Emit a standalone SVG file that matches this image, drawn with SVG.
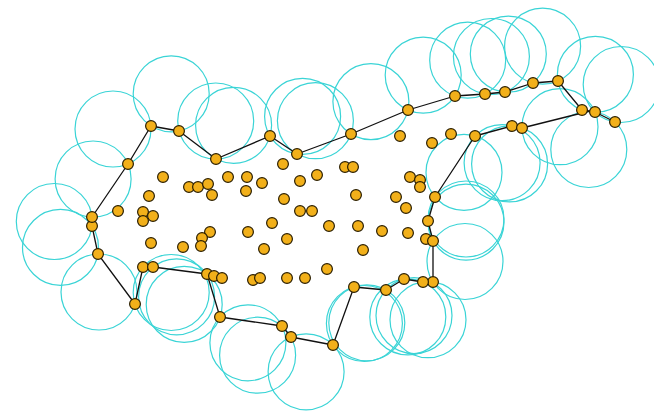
<svg xmlns="http://www.w3.org/2000/svg" width="654" height="413" viewBox="0 0 654 413">
<style>
.c{fill:none;stroke:#3ad4d6;stroke-width:1.2}
.h{fill:none;stroke:#111;stroke-width:1.3;stroke-linejoin:round}
.p{fill:#f2b01a;stroke:#2a1e00;stroke-width:1.2}
</style>
<rect width="654" height="413" fill="#fff"/>
<g id="circles">
<circle class="c" cx="171.2" cy="93.8" r="38"/>
<circle class="c" cx="215.7" cy="121" r="38"/>
<circle class="c" cx="233.6" cy="125.3" r="38"/>
<circle class="c" cx="302.6" cy="116.4" r="38"/>
<circle class="c" cx="315.4" cy="120.7" r="38"/>
<circle class="c" cx="370.9" cy="101.6" r="38"/>
<circle class="c" cx="423.2" cy="75.1" r="38"/>
<circle class="c" cx="467.7" cy="60.2" r="38"/>
<circle class="c" cx="491.4" cy="56.5" r="38"/>
<circle class="c" cx="508.3" cy="54.1" r="38"/>
<circle class="c" cx="542.6" cy="46.2" r="38"/>
<circle class="c" cx="595.4" cy="74.4" r="38"/>
<circle class="c" cx="621.2" cy="84.5" r="38"/>
<circle class="c" cx="588.8" cy="149.5" r="38"/>
<circle class="c" cx="560" cy="126.7" r="38"/>
<circle class="c" cx="509.6" cy="163.9" r="38"/>
<circle class="c" cx="502.1" cy="162.7" r="38"/>
<circle class="c" cx="464" cy="172.4" r="38"/>
<circle class="c" cx="466" cy="219" r="38"/>
<circle class="c" cx="466" cy="222.1" r="38"/>
<circle class="c" cx="465" cy="261.5" r="38"/>
<circle class="c" cx="428" cy="319.7" r="38"/>
<circle class="c" cx="407.8" cy="316.9" r="38"/>
<circle class="c" cx="414" cy="315.6" r="38"/>
<circle class="c" cx="366.8" cy="322.8" r="38"/>
<circle class="c" cx="364.4" cy="323.5" r="38"/>
<circle class="c" cx="306.1" cy="371.8" r="38"/>
<circle class="c" cx="257.6" cy="355.2" r="38"/>
<circle class="c" cx="247.9" cy="342.8" r="38"/>
<circle class="c" cx="184.2" cy="304.4" r="38"/>
<circle class="c" cx="176.6" cy="296.8" r="38"/>
<circle class="c" cx="171.2" cy="292.5" r="38"/>
<circle class="c" cx="99" cy="292" r="38"/>
<circle class="c" cx="60.5" cy="247.4" r="38"/>
<circle class="c" cx="54.3" cy="221.5" r="38"/>
<circle class="c" cx="93.1" cy="179" r="38"/>
<circle class="c" cx="113" cy="129" r="38"/>
</g>
<g id="connectors">
<polyline class="h" points="151,126 179,131 216,159 270,136 297,154 351,134 408,110 455,96 485,94 505,92 533,83 558,81 582,110 595,112 615,122"/>
<polyline class="h" points="590,111 522,128 512,126 475,136 435,197 428,221 433,241 433,282 423,282 404,279 386,290 354,287 333,345 291,337 282,326 220,317 207,274 153,267 143,267 135,304 98,254 92,226 92,217 128,164 151,126"/>
</g>
<g id="points">
<circle class="p" cx="151" cy="126" r="5.4"/>
<circle class="p" cx="179" cy="131" r="5.4"/>
<circle class="p" cx="216" cy="159" r="5.4"/>
<circle class="p" cx="270" cy="136" r="5.4"/>
<circle class="p" cx="297" cy="154" r="5.4"/>
<circle class="p" cx="351" cy="134" r="5.4"/>
<circle class="p" cx="408" cy="110" r="5.4"/>
<circle class="p" cx="455" cy="96" r="5.4"/>
<circle class="p" cx="485" cy="94" r="5.4"/>
<circle class="p" cx="505" cy="92" r="5.4"/>
<circle class="p" cx="533" cy="83" r="5.4"/>
<circle class="p" cx="558" cy="81" r="5.4"/>
<circle class="p" cx="582" cy="110" r="5.4"/>
<circle class="p" cx="595" cy="112" r="5.4"/>
<circle class="p" cx="615" cy="122" r="5.4"/>
<circle class="p" cx="512" cy="126" r="5.4"/>
<circle class="p" cx="522" cy="128" r="5.4"/>
<circle class="p" cx="475" cy="136" r="5.4"/>
<circle class="p" cx="435" cy="197" r="5.4"/>
<circle class="p" cx="428" cy="221" r="5.4"/>
<circle class="p" cx="426" cy="239" r="5.4"/>
<circle class="p" cx="433" cy="241" r="5.4"/>
<circle class="p" cx="433" cy="282" r="5.4"/>
<circle class="p" cx="423" cy="282" r="5.4"/>
<circle class="p" cx="404" cy="279" r="5.4"/>
<circle class="p" cx="386" cy="290" r="5.4"/>
<circle class="p" cx="354" cy="287" r="5.4"/>
<circle class="p" cx="333" cy="345" r="5.4"/>
<circle class="p" cx="282" cy="326" r="5.4"/>
<circle class="p" cx="291" cy="337" r="5.4"/>
<circle class="p" cx="220" cy="317" r="5.4"/>
<circle class="p" cx="207" cy="274" r="5.4"/>
<circle class="p" cx="214" cy="276" r="5.4"/>
<circle class="p" cx="222" cy="278" r="5.4"/>
<circle class="p" cx="143" cy="267" r="5.4"/>
<circle class="p" cx="153" cy="267" r="5.4"/>
<circle class="p" cx="135" cy="304" r="5.4"/>
<circle class="p" cx="98" cy="254" r="5.4"/>
<circle class="p" cx="92" cy="226" r="5.4"/>
<circle class="p" cx="92" cy="217" r="5.4"/>
<circle class="p" cx="128" cy="164" r="5.4"/>
<circle class="p" cx="163" cy="177" r="5.4"/>
<circle class="p" cx="149" cy="196" r="5.4"/>
<circle class="p" cx="118" cy="211" r="5.4"/>
<circle class="p" cx="143" cy="212" r="5.4"/>
<circle class="p" cx="153" cy="216" r="5.4"/>
<circle class="p" cx="143" cy="221" r="5.4"/>
<circle class="p" cx="151" cy="243" r="5.4"/>
<circle class="p" cx="183" cy="247" r="5.4"/>
<circle class="p" cx="210" cy="232" r="5.4"/>
<circle class="p" cx="202" cy="238" r="5.4"/>
<circle class="p" cx="201" cy="246" r="5.4"/>
<circle class="p" cx="189" cy="187" r="5.4"/>
<circle class="p" cx="198" cy="187" r="5.4"/>
<circle class="p" cx="208" cy="184" r="5.4"/>
<circle class="p" cx="212" cy="195" r="5.4"/>
<circle class="p" cx="228" cy="177" r="5.4"/>
<circle class="p" cx="247" cy="177" r="5.4"/>
<circle class="p" cx="262" cy="183" r="5.4"/>
<circle class="p" cx="246" cy="191" r="5.4"/>
<circle class="p" cx="283" cy="164" r="5.4"/>
<circle class="p" cx="300" cy="181" r="5.4"/>
<circle class="p" cx="317" cy="175" r="5.4"/>
<circle class="p" cx="345" cy="167" r="5.4"/>
<circle class="p" cx="353" cy="167" r="5.4"/>
<circle class="p" cx="284" cy="199" r="5.4"/>
<circle class="p" cx="300" cy="211" r="5.4"/>
<circle class="p" cx="312" cy="211" r="5.4"/>
<circle class="p" cx="356" cy="195" r="5.4"/>
<circle class="p" cx="272" cy="223" r="5.4"/>
<circle class="p" cx="248" cy="232" r="5.4"/>
<circle class="p" cx="287" cy="239" r="5.4"/>
<circle class="p" cx="264" cy="249" r="5.4"/>
<circle class="p" cx="329" cy="226" r="5.4"/>
<circle class="p" cx="358" cy="226" r="5.4"/>
<circle class="p" cx="382" cy="231" r="5.4"/>
<circle class="p" cx="408" cy="233" r="5.4"/>
<circle class="p" cx="363" cy="250" r="5.4"/>
<circle class="p" cx="327" cy="269" r="5.4"/>
<circle class="p" cx="305" cy="278" r="5.4"/>
<circle class="p" cx="287" cy="278" r="5.4"/>
<circle class="p" cx="253" cy="280" r="5.4"/>
<circle class="p" cx="260" cy="278" r="5.4"/>
<circle class="p" cx="400" cy="136" r="5.4"/>
<circle class="p" cx="432" cy="143" r="5.4"/>
<circle class="p" cx="451" cy="134" r="5.4"/>
<circle class="p" cx="410" cy="177" r="5.4"/>
<circle class="p" cx="420" cy="180" r="5.4"/>
<circle class="p" cx="420" cy="187" r="5.4"/>
<circle class="p" cx="396" cy="197" r="5.4"/>
<circle class="p" cx="406" cy="208" r="5.4"/>
</g>
</svg>
